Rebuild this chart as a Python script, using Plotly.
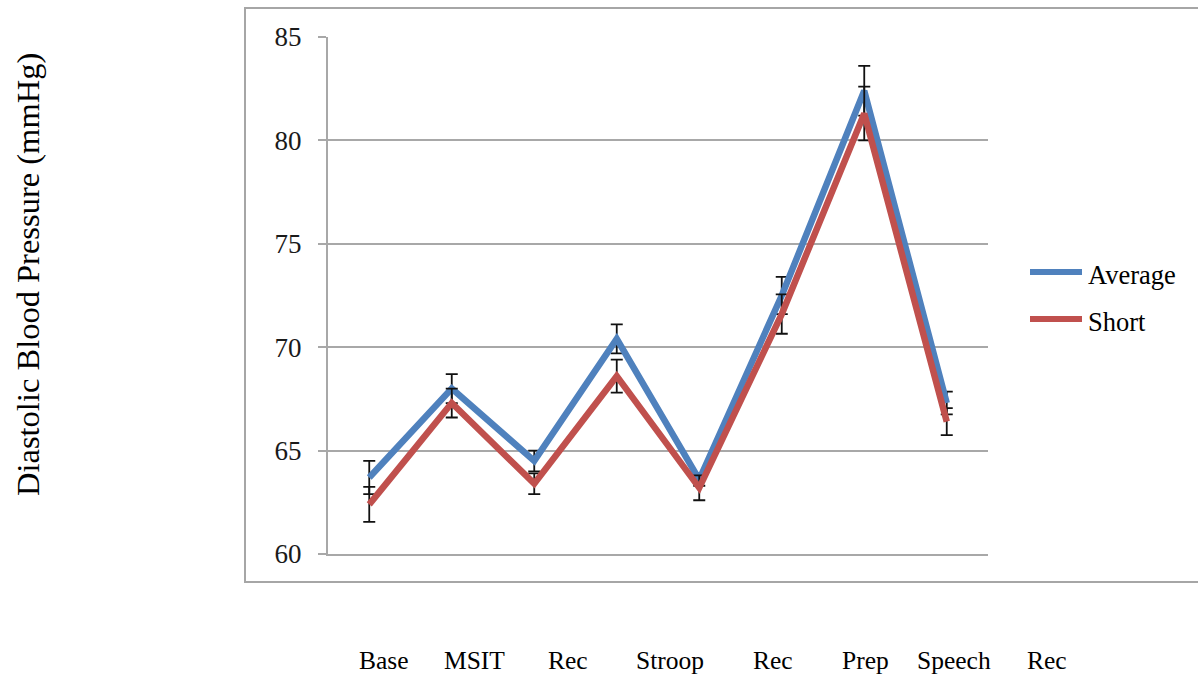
import plotly.graph_objects as go

# Phases of the stress protocol, in session order
phases = ["Base", "MSIT", "Rec", "Stroop", "Rec", "Prep", "Speech", "Rec"]

# Mean diastolic blood pressure (mmHg) and standard errors per group
average_dbp = [63.7, 68.0, 64.5, 70.4, 63.6, 72.5, 82.4, 67.3]
average_err = [0.8, 0.7, 0.5, 0.7, 0.3, 0.9, 1.2, 0.55]
short_dbp = [62.4, 67.3, 63.4, 68.6, 63.2, 71.6, 81.3, 66.4]
short_err = [0.85, 0.7, 0.5, 0.8, 0.6, 0.95, 1.3, 0.65]

y_ticks = [60, 65, 70, 75, 80, 85]

# ---- layout geometry (pixels) ----
W, H = 1198, 678
PL, PR, PT, PB = 328, 988, 37, 554          # plot area edges
PW, PH = PR - PL, PB - PT

def fx(px):
    return (px - PL) / PW

def fy(py):
    return (PB - py) / PH

BLUE = "#4F81BD"
RED = "#C0504D"
GRID = "#A8A8A8"
SERIF = "Liberation Serif"

x_idx = list(range(len(phases)))

fig = go.Figure()
series = [("Average", average_dbp, average_err, BLUE),
          ("Short", short_dbp, short_err, RED)]
for name, vals, errs, col in series:
    fig.add_trace(go.Scatter(
        x=x_idx, y=vals, name=name, mode="lines",
        line=dict(color=col, width=6.5),
        error_y=dict(type="data", array=errs, visible=True,
                     color="#111111", thickness=1.8, width=6),
        showlegend=False,
    ))

# Category labels placed in a row beneath the frame
label_px = [384, 474, 568, 670, 773, 865, 954, 1047]
for txt, px in zip(phases, label_px):
    fig.add_annotation(x=fx(px), y=fy(660), xref="paper", yref="paper",
                       text=txt, showarrow=False, xanchor="center", yanchor="middle",
                       font=dict(family=SERIF, size=25.5, color="black"))

# Vertical axis title
fig.add_annotation(x=fx(28), y=fy(275), xref="paper", yref="paper",
                   text="Diastolic Blood Pressure (mmHg)", textangle=-90,
                   showarrow=False, xanchor="center", yanchor="middle",
                   font=dict(family=SERIF, size=32.5, color="black"))

# Legend drawn as line swatches with labels
legend_rows = [272, 319]
for (name, _, _, col), ly in zip(series, legend_rows):
    fig.add_shape(type="line", xref="paper", yref="paper",
                  x0=fx(1030), x1=fx(1082), y0=fy(ly), y1=fy(ly),
                  line=dict(color=col, width=6))
    fig.add_annotation(x=fx(1086), y=fy(ly + 3), xref="paper", yref="paper",
                       text=name, showarrow=False, xanchor="left", yanchor="middle",
                       font=dict(family=SERIF, size=26.5, color="black"))

# Outer chart frame
fig.add_shape(type="rect", xref="paper", yref="paper",
              x0=fx(245), x1=fx(1200), y0=fy(582), y1=fy(8),
              line=dict(color="#A6A6A6", width=2), layer="below")

fig.update_layout(
    width=W, height=H,
    margin=dict(l=PL, r=W - PR, t=PT, b=H - PB, pad=0),
    paper_bgcolor="white", plot_bgcolor="white",
    font=dict(family=SERIF),
    xaxis=dict(range=[-0.5, len(phases) - 0.5], showticklabels=False,
               showgrid=False, zeroline=False, showline=True,
               linecolor=GRID, linewidth=1.5, ticks=""),
    yaxis=dict(range=[60, 85], tickvals=y_ticks, showgrid=True,
               gridcolor=GRID, gridwidth=1.5, zeroline=False,
               showline=True, linecolor=GRID, linewidth=2,
               ticks="outside", ticklen=8, tickwidth=2, tickcolor=GRID,
               ticklabelstandoff=11,
               tickfont=dict(family=SERIF, size=27, color="#1a1a1a")),
)

fig.write_html("out.html")
